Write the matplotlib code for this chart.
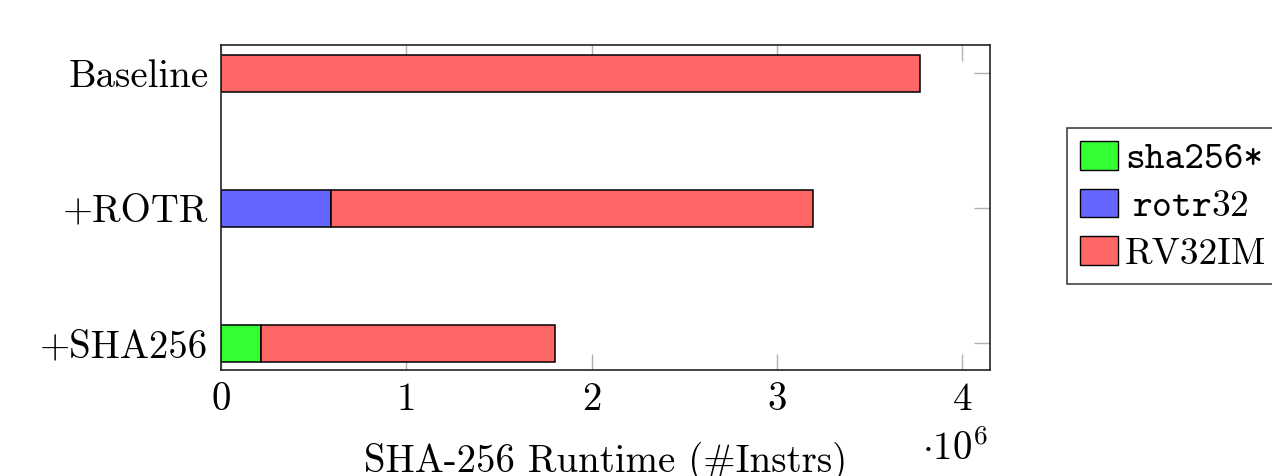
import matplotlib
matplotlib.use("Agg")
import matplotlib.pyplot as plt
from matplotlib.patches import Patch

categories = ["Baseline", "+ROTR", "+SHA256"]
sha256_vals = [0, 0, 216000]
rotr32_vals = [0, 594000, 0]
rv32im_vals = [3773000, 2602000, 1587000]
xticks = [0, 1e6, 2e6, 3e6, 4e6]
xtick_labels = ["0", "1", "2", "3", "4"]
legend_labels = ["sha256*", r"$\:\mathtt{rotr32}$", "RV32IM"]

plt.rcParams['mathtext.fontset'] = 'cm'
plt.rcParams['axes.formatter.use_mathtext'] = True
FS = 28
LFS = 27
RM = 'cmr10'
TT = 'cmtt10'

fig = plt.figure(figsize=(12.72, 4.76), dpi=100)
ax = fig.add_axes([221/1272, 1-370/476, (990-221)/1272, (370-45)/476])

ypos = list(range(len(categories)))
h = 0.274
green = '#33ff33'
blue = '#6666ff'
red = '#ff6666'
left1 = [a for a in sha256_vals]
left2 = [a + b for a, b in zip(sha256_vals, rotr32_vals)]
ax.barh(ypos, sha256_vals, height=h, color=green, edgecolor='black', linewidth=1.1)
ax.barh(ypos, rotr32_vals, left=left1, height=h, color=blue, edgecolor='black', linewidth=1.1)
ax.barh(ypos, rv32im_vals, left=left2, height=h, color=red, edgecolor='black', linewidth=1.1)

ax.set_ylim(2.2, -0.21)
ax.set_xlim(0, 4.15e6)
ax.set_yticks(ypos)
ax.set_yticklabels(categories, fontsize=FS, family=RM)
ax.set_xticks(xticks)
ax.set_xticklabels(xtick_labels, fontsize=FS, family=RM)
ax.set_axisbelow(True)
ax.tick_params(axis='both', direction='in', length=11.5, width=1, color='#b0b0b0',
               top=True, right=True)
ax.tick_params(axis='x', pad=9)
ax.tick_params(axis='y', pad=9)
for s in ax.spines.values():
    s.set_linewidth(1.2)
    s.set_color('#222222')

ax.set_xlabel("SHA-256 Runtime (#Instrs)", fontsize=FS, family=RM, labelpad=17)
fig.text(955/1272, 1-449/476, r"$\cdot 10^6$", fontsize=FS, ha='center', va='center')

handles = [Patch(facecolor=green, edgecolor='black', linewidth=1),
           Patch(facecolor=blue, edgecolor='black', linewidth=1),
           Patch(facecolor=red, edgecolor='black', linewidth=1)]
leg = fig.legend(handles, legend_labels, loc='upper left',
                 bbox_to_anchor=(1067/1272, 1-128/476), fontsize=LFS, frameon=True,
                 fancybox=False, edgecolor='black', handlelength=1.0, handleheight=0.8,
                 handletextpad=0.2, borderpad=0.35, labelspacing=0.3, borderaxespad=0)
leg.get_frame().set_linewidth(1.1)
fams = [TT, TT, RM]
for t, f in zip(leg.get_texts(), fams):
    t.set_family(f)

fig.savefig("out.png", dpi=100)
